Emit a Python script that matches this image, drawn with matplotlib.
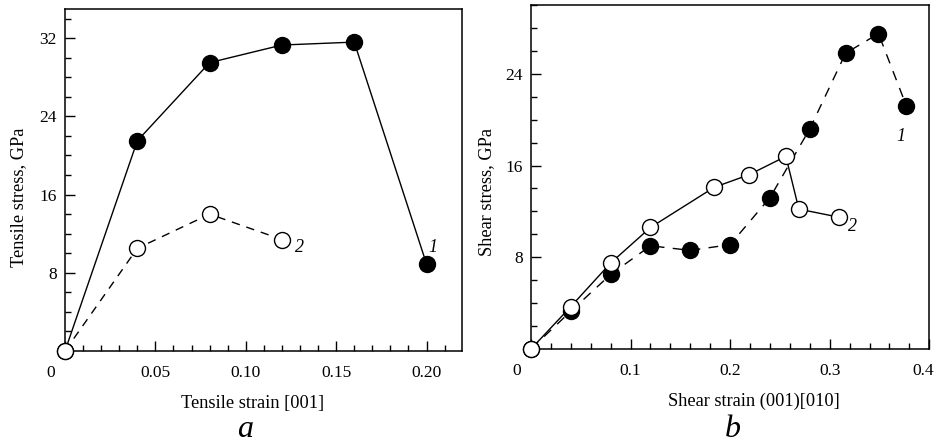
import matplotlib
matplotlib.use("Agg")
import matplotlib.pyplot as plt
import matplotlib.transforms as mtransforms
from matplotlib.ticker import MultipleLocator, FixedLocator

plt.rcParams['font.family'] = ['Liberation Serif', 'DejaVu Serif']

# panel a: tensile
tens_x1 = [0.0, 0.04, 0.08, 0.12, 0.16, 0.20]
tens_y1 = [0.0, 21.5, 29.5, 31.3, 31.6, 8.9]
tens_x2 = [0.0, 0.04, 0.08, 0.12]
tens_y2 = [0.0, 10.5, 14.0, 11.4]
tens_xticks = [0, 0.05, 0.10, 0.15, 0.20]
tens_xlabels = ['0', '0.05', '0.10', '0.15', '0.20']
tens_yticks = [8, 16, 24, 32]

# panel b: shear
shear_x1 = [0.0, 0.04, 0.08, 0.12, 0.16, 0.20, 0.24, 0.28, 0.316, 0.349, 0.377]
shear_y1 = [0.0, 3.3, 6.5, 9.0, 8.6, 9.1, 13.2, 19.2, 25.8, 27.5, 21.2]
shear_x2 = [0.0, 0.04, 0.08, 0.12, 0.184, 0.219, 0.256, 0.269, 0.309]
shear_y2 = [0.0, 3.7, 7.5, 10.6, 14.1, 15.2, 16.8, 12.2, 11.5]
shear_xticks = [0, 0.1, 0.2, 0.3, 0.4]
shear_xlabels = ['0', '0.1', '0.2', '0.3', '0.4']
shear_yticks = [8, 16, 24]

fs = 12.5
fs_lab = 13.2
ms = 11.5


def correr(lab, fig, dx):
    lab.set_transform(lab.get_transform() + mtransforms.ScaledTranslation(dx / 100, 0, fig.dpi_scale_trans))


def estilo(ax, fig):
    for s in ax.spines.values():
        s.set_linewidth(1.1)
    ax.tick_params(which='both', direction='in', top=False, right=False,
                   labelsize=fs, width=1.0)
    ax.tick_params(which='major', length=7)
    ax.tick_params(which='minor', length=4)
    ax.tick_params(axis='x', pad=10)
    ax.tick_params(axis='y', pad=6)
    # el "0" va corrido a la izquierda
    correr(ax.get_xticklabels()[0], fig, -14)


fig = plt.figure(figsize=(9.38, 4.43), dpi=100)
ax1 = fig.add_axes([0.0693, 0.2077, 0.4232, 0.7723])
ax2 = fig.add_axes([0.5661, 0.2122, 0.4246, 0.7765])

# a
ax1.plot(tens_x1, tens_y1, '-', color='black', lw=1.0, marker='o', ms=ms,
         mfc='black', mec='black', clip_on=False, zorder=3)
ax1.plot(tens_x2, tens_y2, '--', color='black', lw=1.0, dashes=(6, 5), marker='o', ms=ms,
         mfc='white', mec='black', mew=1.0, clip_on=False, zorder=4)
ax1.set_xlim(0, 0.2196)
ax1.set_ylim(0, 35.0)
ax1.xaxis.set_major_locator(FixedLocator(tens_xticks))
ax1.set_xticklabels(tens_xlabels)
ax1.xaxis.set_minor_locator(MultipleLocator(0.01))
ax1.yaxis.set_major_locator(FixedLocator(tens_yticks))
ax1.yaxis.set_minor_locator(MultipleLocator(2))
ax1.set_xlabel('Tensile strain [001]', fontsize=fs_lab)
ax1.set_ylabel('Tensile stress, GPa', fontsize=fs_lab)
ax1.xaxis.set_label_coords(0.4736, -0.129)
ax1.yaxis.set_label_coords(-0.096, 0.45)
ax1.text(0.2037, 10.6, '1', fontsize=13, style='italic', ha='center', va='center')
ax1.text(0.1298, 10.6, '2', fontsize=13, style='italic', ha='center', va='center')
estilo(ax1, fig)

# b
ax2.plot(shear_x1, shear_y1, '--', color='black', lw=1.0, dashes=(7, 6), marker='o', ms=ms,
         mfc='black', mec='black', clip_on=False, zorder=3)
ax2.plot(shear_x2, shear_y2, '-', color='black', lw=1.0, marker='o', ms=ms,
         mfc='white', mec='black', mew=1.0, clip_on=False, zorder=4)
ax2.set_xlim(0, 0.4)
ax2.set_ylim(0, 30.0)
ax2.xaxis.set_major_locator(FixedLocator(shear_xticks))
ax2.set_xticklabels(shear_xlabels)
ax2.xaxis.set_minor_locator(MultipleLocator(0.02))
ax2.yaxis.set_major_locator(FixedLocator(shear_yticks))
ax2.yaxis.set_minor_locator(MultipleLocator(2))
ax2.set_xlabel('Shear strain (001)[010]', fontsize=fs_lab)
ax2.set_ylabel('Shear stress, GPa', fontsize=fs_lab)
ax2.xaxis.set_label_coords(0.56, -0.128)
ax2.yaxis.set_label_coords(-0.091, 0.456)
ax2.text(0.3717, 18.5, '1', fontsize=13, style='italic', ha='center', va='center')
ax2.text(0.3228, 10.67, '2', fontsize=13, style='italic', ha='center', va='center')
estilo(ax2, fig)
correr(ax2.get_xticklabels()[-1], fig, -6)

fig.text(0.261, 0.0135, 'a', fontsize=23, style='italic', ha='center', va='baseline')
fig.text(0.781, 0.0135, 'b', fontsize=23, style='italic', ha='center', va='baseline')

plt.savefig('out.png', dpi=100)
